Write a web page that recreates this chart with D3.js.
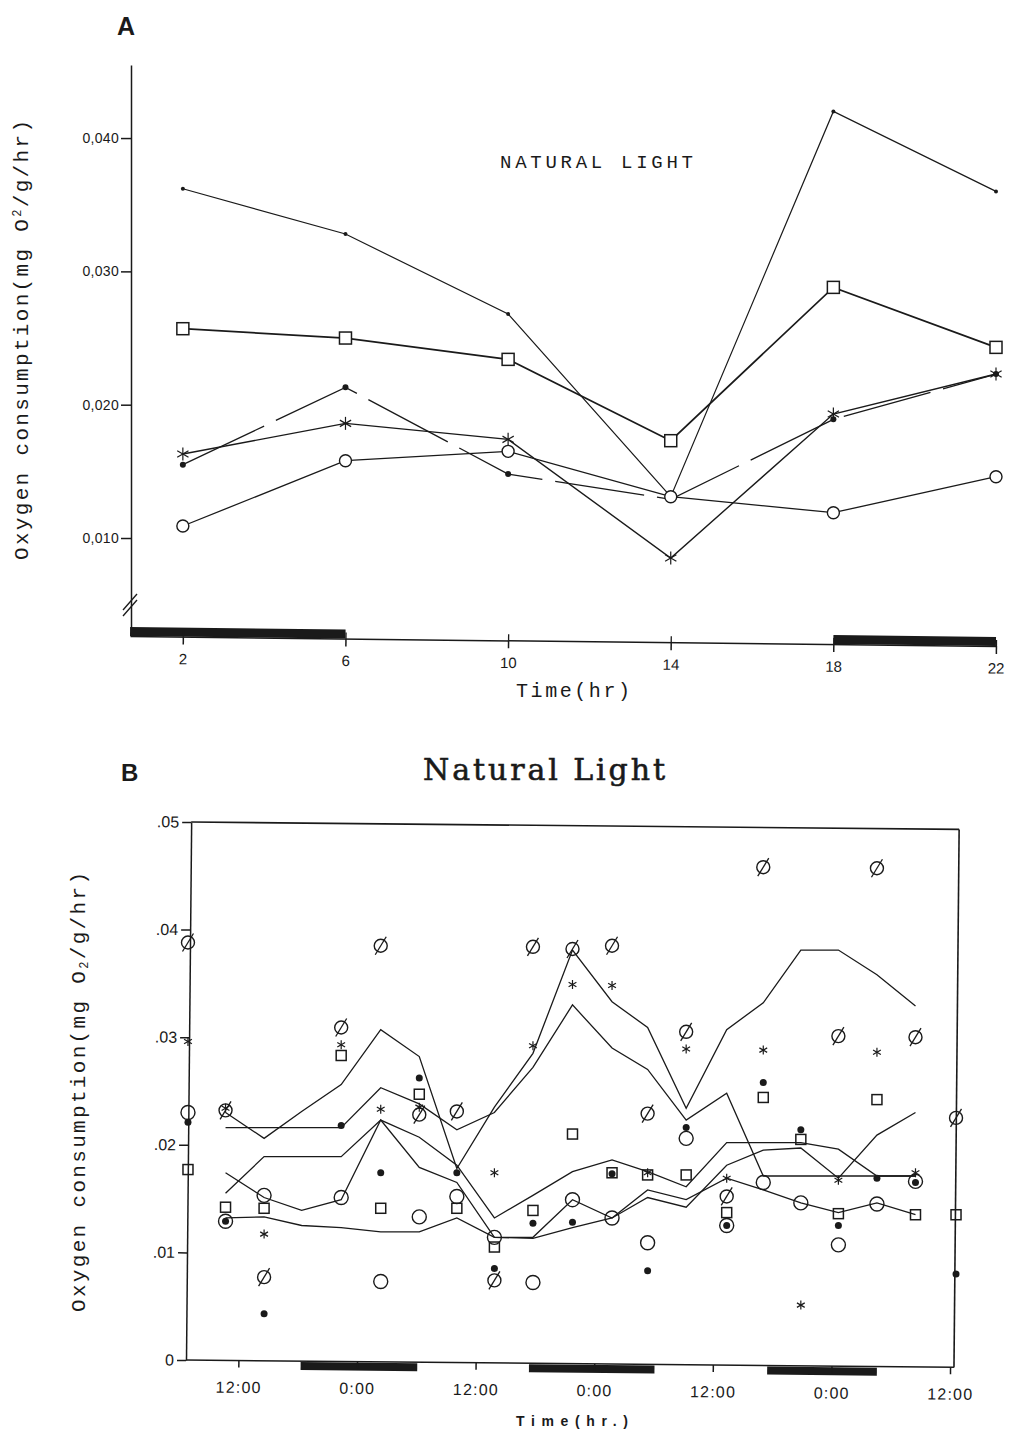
<!DOCTYPE html>
<html>
<head>
<meta charset="utf-8">
<title>Oxygen consumption - natural light</title>
<script src="https://cdn.jsdelivr.net/npm/d3@7"></script>
<style>
  body { margin: 0; background: #fff; }
  svg { display: block; }
</style>
</head>
<body>
<svg id="chart" width="1010" height="1439"></svg>
<script>
// ---- panel A: one value per 4-hour sample ----
const hoursA = [2, 6, 10, 14, 18, 22];
const smallDotA = [0.0362, 0.0328, 0.0268, 0.0131, 0.0420, 0.0360];
const squareA   = [0.0257, 0.0250, 0.0234, 0.0173, 0.0288, 0.0243];
const dotA      = [0.0155, 0.0213, 0.0148, 0.0129, 0.0189, 0.0223];
const starA     = [0.0163, 0.0186, 0.0174, 0.0085, 0.0193, 0.0223];
const circleA   = [0.0109, 0.0158, 0.0165, 0.0131, 0.0119, 0.0146];
const yTicksA = [0.010, 0.020, 0.030, 0.040];
const darkA = [[0.7, 6], [18, 22]];

// ---- panel B: individual readings (hours from the first midnight) ----
const timesB = [6.9, 10.7, 14.6, 18.4, 22.4, 26.4, 30.3, 34.1, 37.9, 41.8, 45.8,
                49.8, 53.4, 57.3, 61.4, 65.1, 68.9, 72.7, 76.6, 80.5, 84.6];
const clockTicksB = [12, 24, 36, 48, 60, 72, 84];
const clockLabelsB = ['12:00', '0:00', '12:00', '0:00', '12:00', '0:00', '12:00'];
const yTicksB = [0, 0.01, 0.02, 0.03, 0.04, 0.05];
const yLabelsB = ['0', '.01', '.02', '.03', '.04', '.05'];
const darkB = [[18.3, 30.1], [41.4, 54.1], [65.5, 76.6]];

const phiB = [[6.9, .0388], [10.7, .0232], [14.6, .0077], [22.4, .0309], [26.4, .0385],
  [30.3, .0228], [34.1, .0231], [37.9, .0074], [41.8, .0384], [45.8, .0382], [49.8, .0385],
  [53.4, .0229], [57.3, .0305], [61.4, .0152], [65.1, .0458], [72.7, .0301], [76.6, .0457],
  [80.5, .0300], [84.6, .0225]];
const starB = [[6.9, .0296], [10.7, .0234], [14.6, .0117], [22.4, .0293], [26.4, .0233],
  [30.3, .0235], [37.9, .0174], [41.8, .0292], [45.8, .0349], [49.8, .0348], [53.4, .0174],
  [57.3, .0289], [61.4, .0169], [65.1, .0288], [68.9, .0051], [72.7, .0167], [76.6, .0286],
  [80.5, .0174]];
const dotB = [[6.9, .0221], [10.7, .0129], [14.6, .0043], [22.4, .0218], [26.4, .0174],
  [30.3, .0262], [34.1, .0174], [37.9, .0085], [41.8, .0127], [45.8, .0128], [49.8, .0173],
  [53.4, .0083], [57.3, .0216], [61.4, .0125], [65.1, .0258], [68.9, .0214], [72.7, .0125],
  [76.6, .0169], [80.5, .0165], [84.6, .0080]];
const squareB = [[6.9, .0177], [10.7, .0142], [14.6, .0141], [22.4, .0283], [26.4, .0141],
  [30.3, .0247], [34.1, .0141], [37.9, .0105], [41.8, .0139], [45.8, .0210], [49.8, .0174],
  [53.4, .0172], [57.3, .0172], [61.4, .0137], [65.1, .0244], [68.9, .0205], [72.7, .0136],
  [76.6, .0242], [80.5, .0135], [84.6, .0135]];
const circleB = [[6.9, .0230], [10.7, .0129], [14.6, .0153], [22.4, .0151], [26.4, .0073],
  [30.3, .0133], [34.1, .0152], [37.9, .0114], [41.8, .0072], [45.8, .0149], [49.8, .0132],
  [53.4, .0109], [57.3, .0206], [61.4, .0125], [65.1, .0165], [68.9, .0146], [72.7, .0107],
  [76.6, .0145], [80.5, .0166]];

// trend lines, one value per time in timesB[1..19]
const line1B = [.0230, .0206, .0231, .0256, .0307, .0282, .0178, .0235, .0285, .0381,
                .0333, .0309, .0234, .0307, .0332, .0381, .0381, .0358, .0329];
const line2B = [.0216, .0216, .0216, .0216, .0253, .0238, .0214, .0230, .0272, .0330,
                .0290, .0270, .0223, .0248, .0171, .0171, .0171, .0171, .0171];
const line3B = [.0155, .0189, .0189, .0189, .0223, .0207, .0181, .0132, .0153, .0175,
                .0186, .0175, .0161, .0202, .0202, .0202, .0196, .0171, .0171];
const line4B = [.0174, .0151, .0139, .0149, .0223, .0179, .0165, .0114, .0114, .0149,
                .0132, .0158, .0149, .0169, .0158, .0146, .0137, .0146, .0135];
const line5B = [.0132, .0133, .0125, .0123, .0119, .0119, .0132, .0114, .0113, .0123,
                .0132, .0151, .0142, .0181, .0195, .0197, .0169, .0209, .0230];

const INK = '#1a1a1a';
const MONO = '"Liberation Mono", "DejaVu Sans Mono", monospace';
const SANS = '"Liberation Sans", Arial, sans-serif';

const svg = d3.select('#chart');

function star(g, x, y, r, w) {
  [90, 30, -30].forEach(a => {
    const c = Math.cos(a * Math.PI / 180) * r, s = Math.sin(a * Math.PI / 180) * r;
    g.append('line')
      .attr('x1', x - c).attr('y1', y - s).attr('x2', x + c).attr('y2', y + s)
      .attr('stroke', INK).attr('stroke-width', w);
  });
}

function drawMark(g, type, x, y, sz, fill) {
  if (type === 'circle') {
    g.append('circle').attr('cx', x).attr('cy', y).attr('r', sz.circle)
      .attr('fill', fill).attr('stroke', INK).attr('stroke-width', 1.4);
  } else if (type === 'square') {
    g.append('rect').attr('x', x - sz.square / 2).attr('y', y - sz.square / 2)
      .attr('width', sz.square).attr('height', sz.square)
      .attr('fill', fill).attr('stroke', INK).attr('stroke-width', 1.5);
  } else if (type === 'dot') {
    g.append('circle').attr('cx', x).attr('cy', y).attr('r', sz.dot).attr('fill', INK);
  } else if (type === 'small') {
    g.append('circle').attr('cx', x).attr('cy', y).attr('r', sz.small).attr('fill', INK);
  } else if (type === 'star') {
    star(g, x, y, sz.star, 1.2);
  } else if (type === 'phi') {
    g.append('circle').attr('cx', x).attr('cy', y).attr('r', sz.phi)
      .attr('fill', 'none').attr('stroke', INK).attr('stroke-width', 1.4);
    g.append('line').attr('x1', x - 5.5).attr('y1', y + 9).attr('x2', x + 5.5).attr('y2', y - 9)
      .attr('stroke', INK).attr('stroke-width', 1.3);
  }
}

function styleAxis(g, size, family) {
  g.attr('font-family', family).attr('font-size', size);
  g.selectAll('path, line').attr('stroke', INK).attr('stroke-width', 1.5);
  g.selectAll('text').attr('fill', INK);
}

// ================= PANEL A =================
const xA = d3.scaleLinear().domain([0.7, 22]).range([130, 996]);
const yA = d3.scaleLinear().domain([0.00265, 0.04548]).range([636, 65]);

svg.append('text').attr('x', 117).attr('y', 35)
  .attr('font-family', SANS).attr('font-weight', 'bold').attr('font-size', 25)
  .attr('fill', INK).text('A');

const yAxisA = svg.append('g').attr('transform', 'translate(131,0)')
  .call(d3.axisLeft(yA).tickValues(yTicksA).tickSize(10).tickSizeOuter(0).tickPadding(2)
    .tickFormat(d => d3.format('.3f')(d).replace('.', ',')));
styleAxis(yAxisA, 14, SANS);
yAxisA.selectAll('text').attr('letter-spacing', 0.3);

// axis break
[0, 6].forEach(off => {
  svg.append('line').attr('x1', 123).attr('y1', 610 + off).attr('x2', 137).attr('y2', 594 + off)
    .attr('stroke', INK).attr('stroke-width', 1.3);
});

const xAxisA = svg.append('g').attr('transform', 'rotate(0.66,130,636) translate(0,636)');
xAxisA.selectAll('rect.dark').data(darkA).join('rect').attr('class', 'dark')
  .attr('x', d => xA(d[0])).attr('width', d => xA(d[1]) - xA(d[0]))
  .attr('y', -9).attr('height', 9).attr('fill', INK);
xAxisA.call(d3.axisBottom(xA).tickValues(hoursA).tickSize(8).tickSizeOuter(0).tickPadding(9));
styleAxis(xAxisA, 15, SANS);
xAxisA.selectAll('.tick').append('line').attr('y2', -6).attr('stroke', INK).attr('stroke-width', 1.3);

const lineA = d3.line().x((d, i) => xA(hoursA[i])).y(d => yA(d));
const seriesA = [
  { vals: smallDotA, mark: 'small', width: 1.2, dash: null },
  { vals: squareA, mark: 'square', width: 1.7, dash: null },
  { vals: dotA, mark: 'dot', width: 1.3, dash: '90,13' },
  { vals: starA, mark: 'star', width: 1.4, dash: null },
  { vals: circleA, mark: 'circle', width: 1.3, dash: null }
];
const sizesA = { circle: 6, square: 12, dot: 3, small: 2, star: 6.5 };
seriesA.forEach(s => {
  svg.append('path').datum(s.vals).attr('d', lineA)
    .attr('fill', 'none').attr('stroke', INK).attr('stroke-width', s.width)
    .attr('stroke-dasharray', s.dash);
});
seriesA.forEach(s => {
  const g = svg.append('g');
  s.vals.forEach((v, i) => drawMark(g, s.mark, xA(hoursA[i]), yA(v), sizesA, '#fff'));
});

svg.append('text').attr('x', 500).attr('y', 168).attr('textLength', 193)
  .attr('font-family', MONO).attr('font-size', 19).attr('fill', INK).text('NATURAL LIGHT');

svg.append('text').attr('x', 573).attr('y', 697).attr('text-anchor', 'middle').attr('textLength', 114)
  .attr('font-family', MONO).attr('font-size', 20).attr('fill', INK).text('Time(hr)');

function yLabel(x, y, sub) {
  const t = svg.append('text').attr('transform', `translate(${x},${y}) rotate(-90)`)
    .attr('text-anchor', 'middle').attr('textLength', 440)
    .attr('font-family', MONO).attr('font-size', 21).attr('fill', INK);
  t.append('tspan').text('Oxygen consumption(mg O');
  t.append('tspan').attr('font-size', 12).attr('dy', sub ? 3 : -7).text('2');
  t.append('tspan').attr('dy', sub ? -3 : 7).text('/g/hr)');
}
yLabel(28, 340, false);

// ================= PANEL B =================
const xB = d3.scaleLinear().domain([6.7, 84.8]).range([186, 958]);
const yB = d3.scaleLinear().domain([0, 0.05]).range([1360, 822]);

svg.append('text').attr('x', 121).attr('y', 781)
  .attr('font-family', SANS).attr('font-weight', 'bold').attr('font-size', 24)
  .attr('fill', INK).text('B');
svg.append('text').attr('x', 544).attr('y', 780).attr('text-anchor', 'middle').attr('textLength', 242)
  .attr('font-family', '"DejaVu Serif", "Liberation Serif", serif').attr('font-size', 30)
  .attr('fill', INK).attr('stroke', INK).attr('stroke-width', 0.6).text('Natural Light');

const frameB = svg.append('g').attr('transform', 'rotate(0.55,186,1360)');
frameB.append('line').attr('x1', 186).attr('y1', 822).attr('x2', 954).attr('y2', 822)
  .attr('stroke', INK).attr('stroke-width', 1.6);
frameB.append('line').attr('x1', 954).attr('y1', 822).attr('x2', 954).attr('y2', 1360)
  .attr('stroke', INK).attr('stroke-width', 1.6);

const yAxisB = frameB.append('g').attr('transform', 'translate(186,0)')
  .call(d3.axisLeft(yB).tickValues(yTicksB).tickFormat((d, i) => yLabelsB[i])
    .tickSize(9).tickSizeOuter(0).tickPadding(3));
styleAxis(yAxisB, 16, SANS);

const xAxisB = frameB.append('g').attr('transform', 'translate(0,1360)');
xAxisB.selectAll('rect.dark').data(darkB).join('rect').attr('class', 'dark')
  .attr('x', d => xB(d[0])).attr('width', d => xB(d[1]) - xB(d[0]))
  .attr('y', 1).attr('height', 8).attr('fill', INK);
xAxisB.call(d3.axisBottom(xB).tickValues(clockTicksB).tickFormat((d, i) => clockLabelsB[i])
  .tickSize(7).tickSizeOuter(0).tickPadding(14));
styleAxis(xAxisB, 16, SANS);
xAxisB.selectAll('text').attr('letter-spacing', 1.2);
xAxisB.select('.domain').attr('d', 'M186,0H954');

const lineB = d3.line().x((d, i) => xB(timesB[i + 1])).y(d => yB(d));
[line1B, line2B, line3B, line4B, line5B].forEach(vals => {
  svg.append('path').datum(vals).attr('d', lineB)
    .attr('fill', 'none').attr('stroke', INK).attr('stroke-width', 1.3);
});

const sizesB = { circle: 7, square: 10, dot: 3.5, star: 4.5, phi: 6.5 };
const marksB = [['square', squareB], ['circle', circleB], ['phi', phiB], ['dot', dotB], ['star', starB]];
marksB.forEach(([type, pts]) => {
  const g = svg.append('g');
  pts.forEach(p => drawMark(g, type, xB(p[0]), yB(p[1]), sizesB, 'none'));
});

yLabel(85, 1092, true);

svg.append('text').attr('x', 572).attr('y', 1426).attr('text-anchor', 'middle').attr('textLength', 112)
  .attr('font-family', SANS).attr('font-weight', 'bold').attr('font-size', 14)
  .attr('fill', INK).text('Time(hr.)');
</script>
</body>
</html>
